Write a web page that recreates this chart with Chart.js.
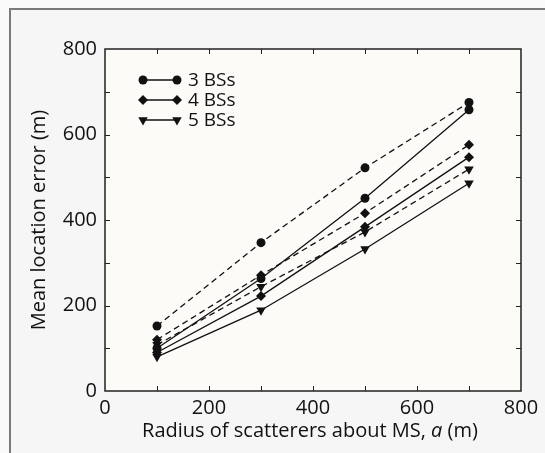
<!DOCTYPE html>
<html>
<head>
<meta charset="utf-8">
<script src="https://cdn.jsdelivr.net/npm/chart.js@4.4.1/dist/chart.umd.min.js"></script>
<style>
  html, body { margin: 0; padding: 0; background: #fafafa; }
  #frame {
    position: absolute; left: 9px; top: 8px; width: 560px; height: 470px;
    border-left: 2px solid #7a7a7a; border-top: 2px solid #7a7a7a;
    background: #f5f6f5; box-sizing: border-box;
  }
  #wrap { position: absolute; left: 0; top: 0; width: 545px; height: 453px; }
</style>
</head>
<body>
<div id="frame"></div>
<div id="wrap"><canvas id="chart" width="545" height="453"></canvas></div>
<script>
// radius of scatterers (m)
const radius = [100, 300, 500, 700];

// mean location error (m), solid curves
const bs3Solid = [100, 263, 451, 658];
const bs4Solid = [90, 222, 384, 547];
const bs5Solid = [80, 189, 332, 486];
// dashed curves
const bs3Dashed = [152, 347, 522, 675];
const bs4Dashed = [120, 271, 416, 576];
const bs5Dashed = [108, 244, 372, 519];

const legendNames = ["3 BSs", "4 BSs", "5 BSs"];

const xTicks = [0, 200, 400, 600, 800];
const yTicks = [0, 200, 400, 600, 800];

const FONT = "'Open Sans', 'DejaVu Sans', sans-serif";
const INK = "#111";

function pts(ys) {
  return radius.map((x, i) => ({ x, y: ys[i] }));
}

const styles = [
  { shape: "circle", r: 4.5, rot: 0 },
  { shape: "rectRot", r: 5, rot: 0 },
  { shape: "triangle", r: 5.5, rot: 180 }
];

function series(label, ys, style, dashed, showInLegend) {
  return {
    label,
    data: pts(ys),
    borderColor: INK,
    backgroundColor: INK,
    borderWidth: 1.3,
    borderDash: dashed ? [6, 4] : [],
    pointStyle: style.shape,
    pointRadius: style.r,
    pointRotation: style.rot,
    pointBorderWidth: 0,
    tension: 0,
    showLine: true,
    fill: false,
    inLegend: showInLegend
  };
}

// plot background, frame, inward ticks on all four sides
const frameTicks = {
  id: "frameTicks",
  beforeDatasetsDraw(chart) {
    const { ctx, chartArea: a } = chart;
    ctx.save();
    ctx.fillStyle = "#fcfbf8";
    ctx.fillRect(a.left, a.top, a.right - a.left, a.bottom - a.top);
    ctx.restore();
  },
  afterDraw(chart) {
    const { ctx, chartArea: a, scales } = chart;
    ctx.save();
    ctx.strokeStyle = "#222";
    ctx.lineWidth = 1.5;
    ctx.strokeRect(a.left, a.top, a.right - a.left, a.bottom - a.top);
    ctx.lineWidth = 1;
    const len = 5;
    for (let v = 100; v < 800; v += 100) {
      const x = Math.round(scales.x.getPixelForValue(v)) + 0.5;
      ctx.beginPath();
      ctx.moveTo(x, a.bottom); ctx.lineTo(x, a.bottom - len);
      ctx.moveTo(x, a.top); ctx.lineTo(x, a.top + len);
      ctx.stroke();
      const y = Math.round(scales.y.getPixelForValue(v)) + 0.5;
      ctx.beginPath();
      ctx.moveTo(a.left, y); ctx.lineTo(a.left + len, y);
      ctx.moveTo(a.right, y); ctx.lineTo(a.right - len, y);
      ctx.stroke();
    }

    // axis titles (x title has an italic "a")
    ctx.fillStyle = INK;
    ctx.textBaseline = "alphabetic";
    const up = "20px " + FONT, it = "italic 20px " + FONT;
    const parts = [["Radius of scatterers about MS, ", up], ["a", it], [" (m)", up]];
    let w = 0;
    parts.forEach(p => { ctx.font = p[1]; w += ctx.measureText(p[0]).width; });
    let tx = 310 - w / 2;
    parts.forEach(p => { ctx.font = p[1]; ctx.fillText(p[0], tx, 437); tx += ctx.measureText(p[0]).width; });

    ctx.translate(45, (a.top + a.bottom) / 2);
    ctx.rotate(-Math.PI / 2);
    ctx.font = up;
    ctx.textAlign = "center";
    ctx.fillText("Mean location error (m)", 0, 0);
    ctx.restore();
  }
};

// legend: line with a marker at each end
const lineLegend = {
  id: "lineLegend",
  afterDraw(chart) {
    const { ctx } = chart;
    ctx.save();
    const x0 = 143, x1 = 177;
    let y = 80;
    chart.data.datasets.filter(d => d.inLegend).forEach(d => {
      ctx.strokeStyle = INK;
      ctx.lineWidth = 1.3;
      ctx.beginPath(); ctx.moveTo(x0, y); ctx.lineTo(x1, y); ctx.stroke();
      ctx.fillStyle = INK;
      [x0, x1].forEach(px => {
        Chart.helpers.drawPoint(ctx, {
          pointStyle: d.pointStyle, radius: d.pointRadius,
          rotation: d.pointRotation, borderWidth: 0
        }, px, y);
      });
      ctx.font = "19px " + FONT;
      ctx.textBaseline = "middle";
      ctx.fillText(d.label, 188, y + 1);
      y += 20;
    });
    ctx.restore();
  }
};

new Chart(document.getElementById("chart"), {
  type: "scatter",
  data: {
    datasets: [
      series(legendNames[0], bs3Solid, styles[0], false, true),
      series(legendNames[1], bs4Solid, styles[1], false, true),
      series(legendNames[2], bs5Solid, styles[2], false, true),
      series(legendNames[0] + " (dashed)", bs3Dashed, styles[0], true, false),
      series(legendNames[1] + " (dashed)", bs4Dashed, styles[1], true, false),
      series(legendNames[2] + " (dashed)", bs5Dashed, styles[2], true, false)
    ]
  },
  options: {
    responsive: false,
    animation: false,
    layout: { padding: { top: 49, right: 24, left: 0, bottom: 0 } },
    plugins: { legend: { display: false }, tooltip: { enabled: false } },
    scales: {
      x: {
        type: "linear", min: 0, max: 800,
        afterBuildTicks: s => { s.ticks = xTicks.map(v => ({ value: v })); },
        afterFit: s => { s.height = 62; },
        grid: { display: false },
        border: { display: false },
        ticks: { color: INK, font: { family: FONT, size: 20 }, padding: -3, maxRotation: 0 }
      },
      y: {
        type: "linear", min: 0, max: 800,
        afterBuildTicks: s => { s.ticks = yTicks.map(v => ({ value: v })); },
        afterFit: s => { s.width = 105; },
        grid: { display: false },
        border: { display: false },
        ticks: { color: INK, font: { family: FONT, size: 20 }, padding: 0 }
      }
    }
  },
  plugins: [frameTicks, lineLegend]
});
</script>
</body>
</html>
